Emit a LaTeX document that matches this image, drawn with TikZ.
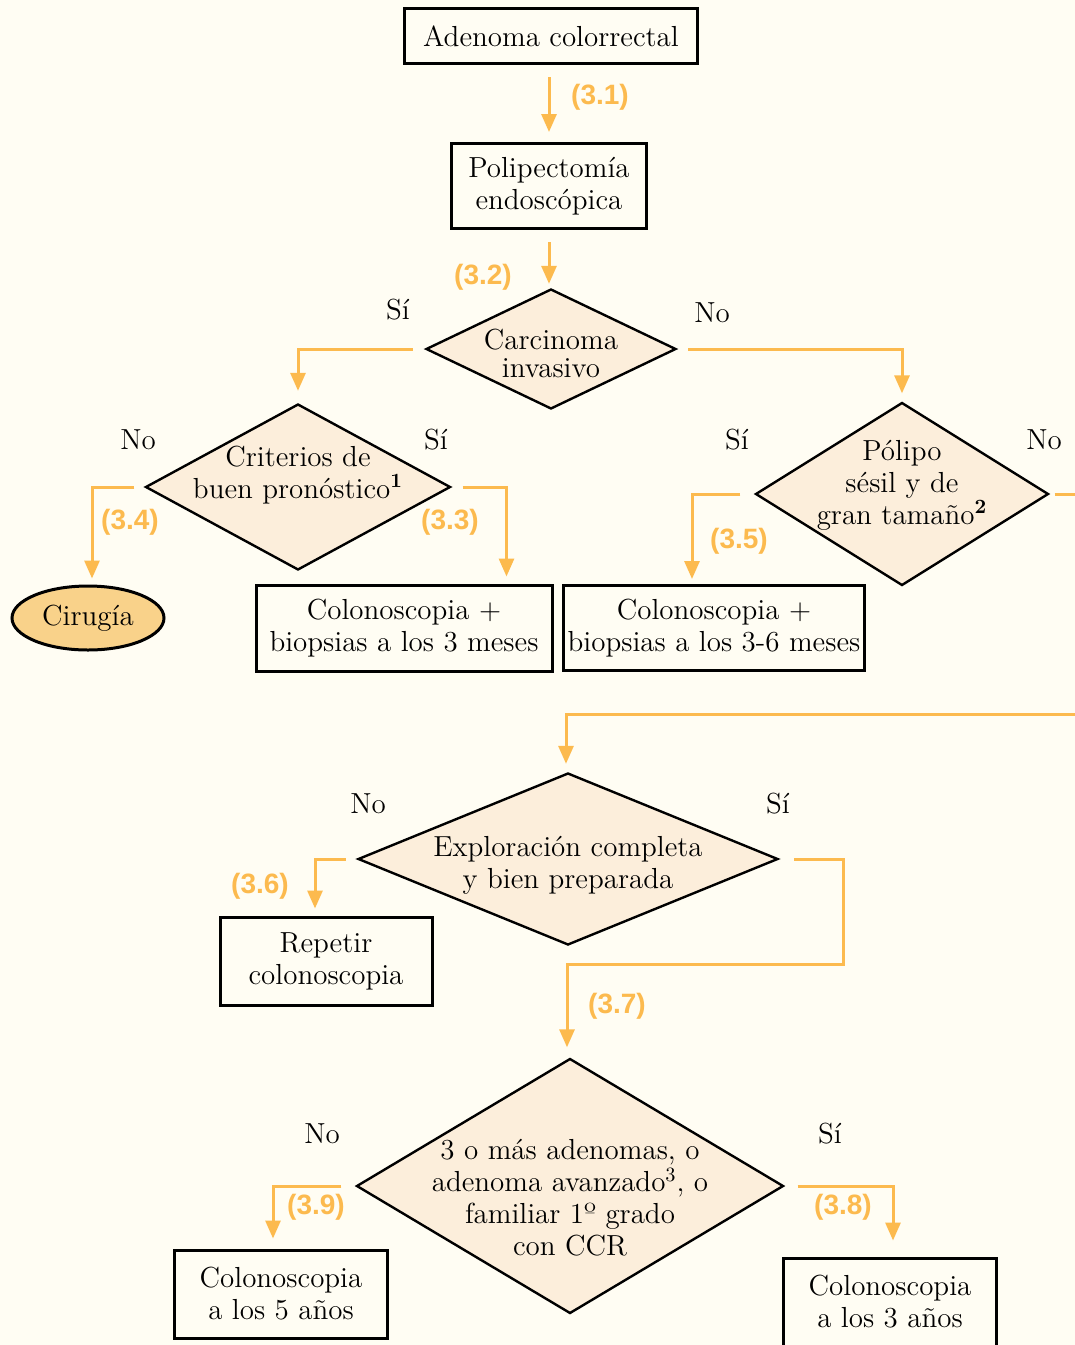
\documentclass[tikz,border=0pt]{standalone}
\usepackage{fontspec}
\newfontfamily\refnumfont{Liberation Sans}
\usetikzlibrary{shapes.geometric,arrows.meta}

\definecolor{bgcream}{HTML}{FFFDF3}
\definecolor{arrorange}{HTML}{FCBA4E}
\definecolor{diamfill}{HTML}{FCEEDB}
\definecolor{cirfill}{HTML}{F9D28A}

\tikzset{
  txt/.style={font=\fontsize{14.5}{16}\selectfont, align=center},
  stepbox/.style={txt, draw, line width=1.5pt, fill=bgcream, inner sep=2pt},
  decision/.style={draw, diamond, line width=1.2pt, fill=diamfill, inner sep=0pt},
  dtext/.style={txt, anchor=center},
  endnode/.style={txt, draw, ellipse, line width=1.5pt, fill=cirfill, inner sep=0pt},
  refnum/.style={font=\refnumfont\bfseries\fontsize{14}{16}\selectfont, text=arrorange},
  answer/.style={txt},
  arr/.style={draw=arrorange, line width=1.5pt, -{Triangle[length=9pt,width=7.5pt]}},
  seg/.style={draw=arrorange, line width=1.5pt}
}

\begin{document}
\begin{tikzpicture}[x=0.5pt,y=-0.5pt]
\fill[bgcream] (0,0) rectangle (1075,1345);
\useasboundingbox (0,0) rectangle (1075,1345);
% Boxes
\node[stepbox, minimum width=146.5pt, minimum height=27.5pt] (adenoma) at (551,36) {Adenoma colorrectal};
\node[stepbox, minimum width=97.5pt, minimum height=42.5pt] (polip) at (549,186) {Polipectomía\\endoscópica};
\node[stepbox, minimum width=148pt, minimum height=43pt] (biop3) at (404,628) {Colonoscopia +\\biopsias a los 3 meses};
\node[stepbox, minimum width=148pt, minimum height=42.5pt] (biop36) at (714,628) {Colonoscopia +\\biopsias a los 3-6 meses};
\node[stepbox, minimum width=106pt, minimum height=44pt] (repetir) at (326,961) {Repetir\\colonoscopia};
\node[stepbox, minimum width=106.5pt, minimum height=44pt] (col5) at (281,1294) {Colonoscopia\\a los 5 años};
\node[stepbox, minimum width=106.5pt, minimum height=44pt] (col3) at (890,1302) {Colonoscopia\\a los 3 años};
\node[endnode, minimum width=76pt, minimum height=32pt] (cirugia) at (88,618) {Cirugía};
% Decisions
\node[decision, minimum width=125pt, minimum height=60pt,
  label={[dtext, font=\fontsize{14.5}{14}\selectfont, yshift=-2pt]center:Carcinoma\\invasivo}] (carc) at (551,349) {};
\node[decision, minimum width=152.5pt, minimum height=83pt,
  label={[dtext, yshift=6pt]center:Criterios de\\buen pronóstico\textsuperscript{\bfseries 1}}] (crit) at (298,487) {};
\node[decision, minimum width=146.5pt, minimum height=91.5pt,
  label={[dtext, yshift=4.5pt]center:Pólipo\\sésil y de\\gran tamaño\textsuperscript{\bfseries 2}}] (pol) at (902,494) {};
\node[decision, minimum width=210pt, minimum height=86pt,
  label={[dtext, yshift=-3pt]center:Exploración completa\\y bien preparada}] (expl) at (568,859) {};
\node[decision, minimum width=213.5pt, minimum height=127.5pt,
  label={[dtext, yshift=-6pt]center:3 o más adenomas, o\\adenoma avanzado\textsuperscript{3}, o\\familiar 1º grado\\con CCR}] (mas) at (570,1186) {};
% Answers
\node[answer] (carcsi) at (398,310) {Sí};
\node[answer] (carcno) at (712,313) {No};
\node[answer] (critno) at (138,440) {No};
\node[answer] (critsi) at (436,440) {Sí};
\node[answer] (polsi) at (737,440) {Sí};
\node[answer] (polno) at (1044,440) {No};
\node[answer] (explno) at (368,804) {No};
\node[answer] (explsi) at (778,804) {Sí};
\node[answer] (masno) at (322,1134) {No};
\node[answer] (massi) at (830,1134) {Sí};
% Step numbers
\node[refnum] (r31) at (600,97) {(3.1)};
\node[refnum] (r32) at (483,277) {(3.2)};
\node[refnum] (r33) at (450,522) {(3.3)};
\node[refnum] (r34) at (130,522) {(3.4)};
\node[refnum] (r35) at (739,541) {(3.5)};
\node[refnum] (r36) at (260,886) {(3.6)};
\node[refnum] (r37) at (617,1006) {(3.7)};
\node[refnum] (r38) at (843,1207) {(3.8)};
\node[refnum] (r39) at (316,1207) {(3.9)};
% Off-page turn
\coordinate (outR) at (1075,494);
\coordinate (inR) at (1075,714);
\coordinate (bend) at (843,964);
% Arrows
\draw[arr, shorten <=6pt, shorten >=5pt] (polip.north |- adenoma.south) -- (polip.north);
\draw[arr, shorten <=6pt, shorten >=2pt] (polip.south) -- (polip.south |- carc.north);
\draw[arr, shorten <=6pt, shorten >=6pt] (carc.west) -| (crit.north);
\draw[arr, shorten <=5.5pt, shorten >=4pt] (carc.east) -| (pol.north);
\draw[arr, shorten <=5pt, shorten >=3pt] (crit.west) -| ([xshift=2pt]cirugia.north);
\draw[arr, shorten <=5.5pt, shorten >=3.5pt] (crit.east) -| ([xshift=-23.5pt]biop3.north east);
\draw[arr, shorten <=7pt, shorten >=2.5pt] (pol.west) -| ([xshift=-11pt]biop36.north);
\draw[seg, shorten <=2.5pt] (pol.east) -- (outR);
\draw[arr, shorten >=4pt] (inR) -| ([xshift=-1pt]expl.north);
\draw[arr, shorten <=5.5pt, shorten >=3.5pt] (expl.west) -| ([xshift=-5.5pt]repetir.north);
\draw[arr, shorten <=7.5pt, shorten >=5pt] (expl.east) -| (bend) -| ([xshift=-1.5pt]mas.north);
\draw[arr, shorten <=7pt, shorten >=5pt] (mas.west) -| ([xshift=-4pt]col5.north);
\draw[arr, shorten <=6.5pt, shorten >=8pt] (mas.east) -| ([xshift=1.5pt]col3.north);
\end{tikzpicture}
\end{document}
